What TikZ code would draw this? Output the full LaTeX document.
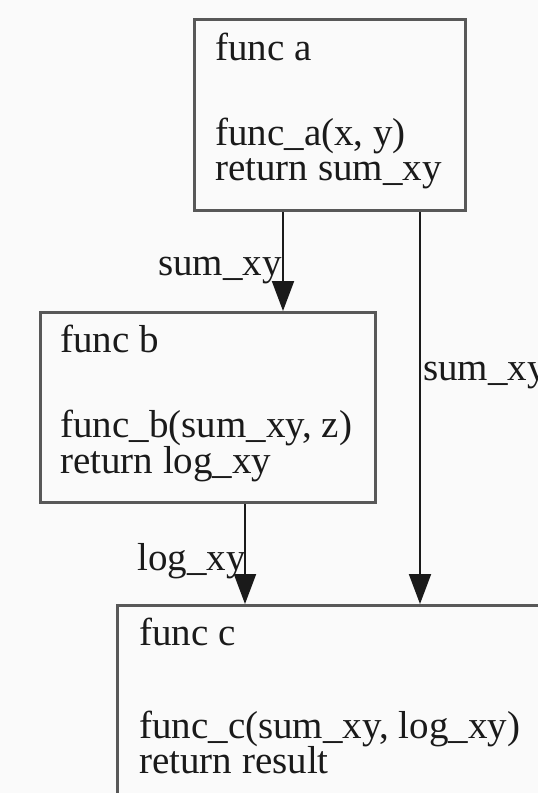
\documentclass[tikz,border=0pt]{standalone}
\usepackage{fontspec}
\setmainfont{Liberation Serif}
\usetikzlibrary{arrows.meta}
\definecolor{paper}{RGB}{250,250,250}
\definecolor{ink}{RGB}{26,26,26}
\definecolor{frame}{RGB}{88,88,88}
\tikzset{
  fnbox/.style={draw=frame, line width=3pt, fill=paper, inner sep=0pt, anchor=north west},
  txt/.style={text=ink, inner sep=0pt, anchor=base west, font=\fontsize{39}{35}\selectfont},
  flow/.style={draw=ink, line width=2pt, -{Triangle[length=30pt,width=22pt]}},
}
\begin{document}
\begin{tikzpicture}[x=1pt,y=-1pt]
  \useasboundingbox (0,0) rectangle (538,793);
  \fill[paper] (0,0) rectangle (538,793);
  \clip (0,0) rectangle (538,793);

  % function boxes
  \node[fnbox, minimum width=271pt, minimum height=191pt] (a) at (193,18) {};
  \node[fnbox, minimum width=335pt, minimum height=190pt] (b) at (39,311) {};
  \node[fnbox, minimum width=500pt, minimum height=260pt] (c) at (116,604) {};

  % box contents
  \node[txt] (a1) at (215,60)  {func a};
  \node[txt] (a2) at (215,145) {func\_a(x, y)};
  \node[txt] (a3) at (215,180) {return sum\_xy};

  \node[txt] (b1) at (60,352)  {func b};
  \node[txt] (b2) at (60,437)  {func\_b(sum\_xy, z)};
  \node[txt] (b3) at (60,473)  {return log\_xy};

  \node[txt] (c1) at (139,645) {func c};
  \node[txt] (c2) at (139,738) {func\_c(sum\_xy, log\_xy)};
  \node[txt] (c3) at (139,773) {return result};

  % connector columns
  \coordinate (ab) at (283,0);
  \coordinate (ac) at (420,0);
  \coordinate (bc) at (245,0);

  \draw[flow] (a.south -| ab) -- (b.north -| ab);
  \draw[flow] (a.south -| ac) -- (c.north -| ac);
  \draw[flow] (b.south -| bc) -- (c.north -| bc);

  % connector labels
  \node[txt] (lab1) at (158,275) {sum\_xy};
  \node[txt] (lab2) at (423,380) {sum\_xy};
  \node[txt] (lab3) at (137,570) {log\_xy};
\end{tikzpicture}
\end{document}
